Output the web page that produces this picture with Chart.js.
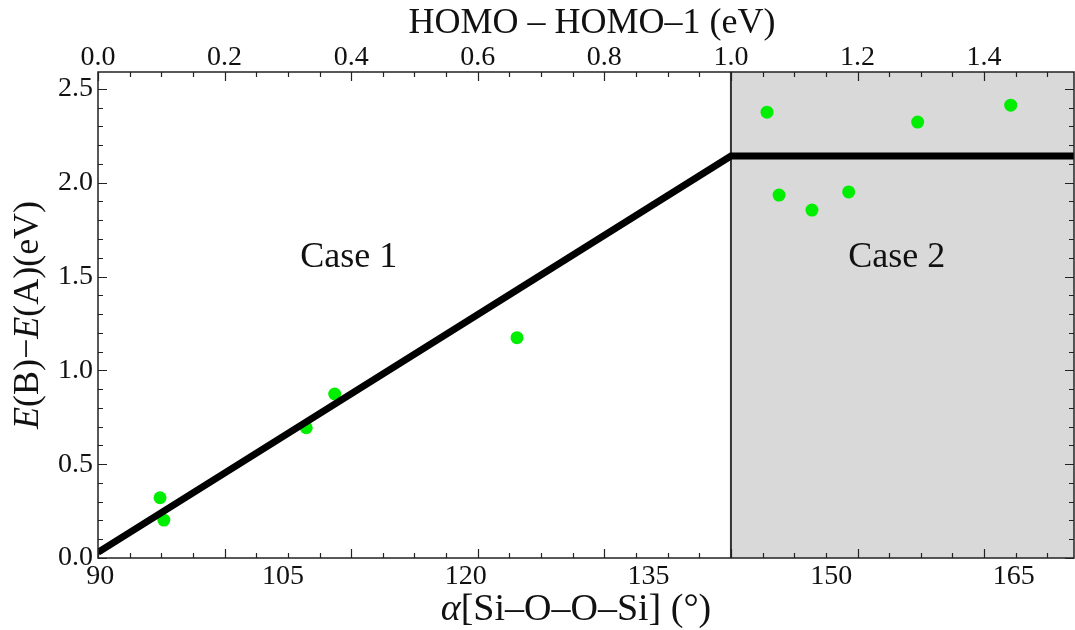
<!DOCTYPE html>
<html>
<head>
<meta charset="utf-8">
<script src="https://cdn.jsdelivr.net/npm/chart.js@4/dist/chart.umd.min.js"></script>
<style>
  html, body { margin: 0; padding: 0; background: #fff; }
</style>
</head>
<body>
<canvas id="chart" width="1075" height="630"></canvas>
<script>
// HOMO - HOMO-1 gap (eV) vs E(B)-E(A) (eV)
const gapCase1 = [0.098, 0.104, 0.329, 0.374, 0.662];
const dECase1 = [0.321, 0.202, 0.694, 0.874, 1.174];
const gapCase2 = [1.057, 1.076, 1.128, 1.186, 1.295, 1.442];
const dECase2 = [2.376, 1.934, 1.854, 1.951, 2.323, 2.413];

// model line: linear rise then flat
const fitGap = [0, 1.0, 1.542];
const fitDE = [0.03, 2.142, 2.142];

const angleTicks = [90, 105, 120, 135, 150, 165];
const gapTicks = [0.0, 0.2, 0.4, 0.6, 0.8, 1.0, 1.2, 1.4];
const energyTicks = [0.0, 0.5, 1.0, 1.5, 2.0, 2.5];

const caseBoundary = 1.0;

const SERIF = '"Liberation Serif", "Times New Roman", serif';
const tickFont = { family: SERIF, size: 28, lineHeight: 1 };
const INK = '#111';

function toPoints(xs, ys) {
    return xs.map((x, i) => ({ x: x, y: ys[i] }));
}

// draw a string made of regular / italic pieces, centred on x
function drawParts(ctx, parts, x, y, size) {
    let total = 0;
    parts.forEach(p => {
        ctx.font = (p.italic ? 'italic ' : '') + size + 'px ' + SERIF;
        p.w = ctx.measureText(p.t).width;
        total += p.w;
    });
    let cx = x - total / 2;
    ctx.textAlign = 'left';
    parts.forEach(p => {
        ctx.font = (p.italic ? 'italic ' : '') + size + 'px ' + SERIF;
        ctx.fillText(p.t, cx, y);
        cx += p.w;
    });
}

function noPadH(s, h) {
    s.height = h;
    s.paddingLeft = 0;
    s.paddingRight = 0;
}

const framePlugin = {
    id: 'frame',
    beforeDatasetsDraw(chart) {
        const { ctx, chartArea: a, scales } = chart;
        const xb = scales.x2.getPixelForValue(caseBoundary);
        ctx.save();
        ctx.fillStyle = '#d9d9d9';
        ctx.fillRect(xb, a.top, a.right - xb, a.bottom - a.top);
        ctx.strokeStyle = '#333';
        ctx.lineWidth = 2;
        ctx.beginPath();
        ctx.moveTo(xb, a.top);
        ctx.lineTo(xb, a.bottom);
        ctx.stroke();
        ctx.restore();
    },
    afterDatasetsDraw(chart) {
        const { ctx, chartArea: a, scales } = chart;
        ctx.save();
        ctx.strokeStyle = '#222';
        ctx.lineWidth = 1.5;
        ctx.strokeRect(a.left, a.top, a.right - a.left, a.bottom - a.top);

        ctx.lineWidth = 1.2;
        ctx.beginPath();
        // top and bottom ticks follow the gap axis
        for (let j = 0; j <= 31; j++) {
            const v = j * 0.05;
            if (v > scales.x2.max) break;
            const px = Math.round(scales.x2.getPixelForValue(v)) + 0.5;
            const len = j % 4 === 0 ? 9 : 5;
            ctx.moveTo(px, a.top);
            ctx.lineTo(px, a.top + len);
            ctx.moveTo(px, a.bottom);
            ctx.lineTo(px, a.bottom - len);
        }
        // left and right ticks
        for (let j = 0; j <= 25; j++) {
            const v = j * 0.1;
            const py = Math.round(scales.y.getPixelForValue(v)) + 0.5;
            const len = j % 5 === 0 ? 9 : 5;
            ctx.moveTo(a.left, py);
            ctx.lineTo(a.left + len, py);
            ctx.moveTo(a.right, py);
            ctx.lineTo(a.right - len, py);
        }
        ctx.stroke();
        ctx.restore();
    },
    afterDraw(chart) {
        const { ctx, chartArea: a, scales } = chart;
        ctx.save();
        ctx.fillStyle = INK;
        ctx.textBaseline = 'alphabetic';

        // case labels
        const cy = scales.y.getPixelForValue(1.55);
        drawParts(ctx, [{ t: 'Case 1' }], scales.x2.getPixelForValue(0.396), cy, 36);
        drawParts(ctx, [{ t: 'Case 2' }], scales.x2.getPixelForValue(1.262), cy, 36);

        // top axis title
        drawParts(ctx, [{ t: 'HOMO – HOMO–1 (eV)' }], 592, 33, 36);

        // bottom axis title
        drawParts(ctx, [{ t: 'α', italic: true }, { t: '[Si–O–O–Si] (°)' }], 576, 620, 38);

        // y axis title (rotated)
        ctx.translate(38, (a.top + a.bottom) / 2);
        ctx.rotate(-Math.PI / 2);
        drawParts(ctx, [
            { t: 'E', italic: true }, { t: '(B)−' },
            { t: 'E', italic: true }, { t: '(A)(eV)' }
        ], 0, 0, 36);
        ctx.restore();
    }
};

const ctx = document.getElementById('chart');

new Chart(ctx, {
    type: 'scatter',
    data: {
        datasets: [
            {
                label: 'model',
                data: toPoints(fitGap, fitDE),
                showLine: true,
                borderColor: '#000',
                borderWidth: 7,
                pointRadius: 0,
                xAxisID: 'x2',
                yAxisID: 'y'
            },
            {
                label: 'Case 1',
                data: toPoints(gapCase1, dECase1),
                backgroundColor: '#00ee00',
                borderWidth: 0,
                pointRadius: 6.5,
                xAxisID: 'x2',
                yAxisID: 'y'
            },
            {
                label: 'Case 2',
                data: toPoints(gapCase2, dECase2),
                backgroundColor: '#00ee00',
                borderWidth: 0,
                pointRadius: 6.5,
                xAxisID: 'x2',
                yAxisID: 'y'
            }
        ]
    },
    options: {
        responsive: false,
        animation: false,
        layout: { autoPadding: false, padding: { right: 1 } },
        plugins: {
            legend: { display: false },
            tooltip: { enabled: false }
        },
        scales: {
            x: {
                type: 'linear',
                position: 'bottom',
                min: 89.81,
                max: 169.94,
                afterBuildTicks: s => { s.ticks = angleTicks.map(v => ({ value: v })); },
                afterFit: s => noPadH(s, 72),
                grid: { display: false, drawTicks: false },
                border: { display: false },
                ticks: {
                    font: tickFont, color: INK, padding: 5,
                    maxRotation: 0, autoSkip: false,
                    callback: v => String(v)
                }
            },
            x2: {
                type: 'linear',
                position: 'top',
                min: 0,
                max: 1.542,
                afterBuildTicks: s => { s.ticks = gapTicks.map(v => ({ value: v })); },
                afterFit: s => noPadH(s, 72),
                grid: { display: false, drawTicks: false },
                border: { display: false },
                ticks: {
                    font: tickFont, color: INK, padding: 0,
                    maxRotation: 0, autoSkip: false,
                    callback: v => v.toFixed(1)
                }
            },
            y: {
                type: 'linear',
                min: 0,
                max: 2.59,
                afterBuildTicks: s => { s.ticks = energyTicks.map(v => ({ value: v })); },
                afterFit: s => {
                    s.width = 98;
                    s.paddingTop = 0;
                    s.paddingBottom = 0;
                },
                grid: { display: false, drawTicks: false },
                border: { display: false },
                ticks: {
                    font: tickFont, color: INK, padding: 5,
                    autoSkip: false,
                    callback: v => v.toFixed(1)
                }
            }
        }
    },
    plugins: [framePlugin]
});
</script>
</body>
</html>
